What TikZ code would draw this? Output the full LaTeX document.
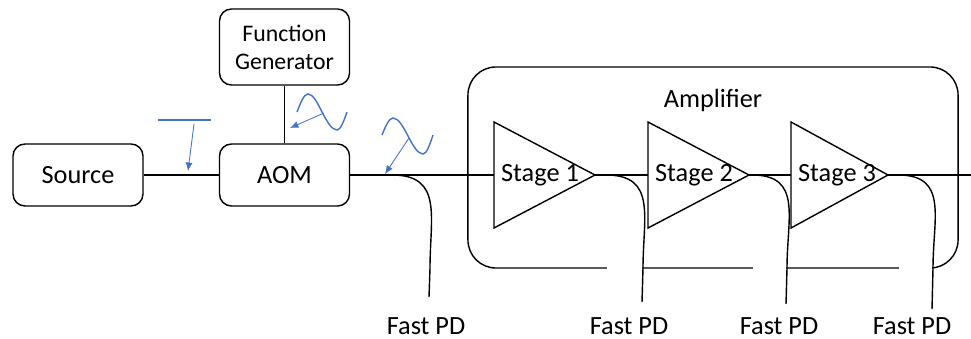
\documentclass[tikz,border=0pt]{standalone}
\usepackage{fontspec}
\setmainfont{Carlito}
\usetikzlibrary{arrows.meta}
\definecolor{msblue}{HTML}{4472C4}

\begin{document}
\begin{tikzpicture}[x=0.025cm,y=-0.025cm,line width=1pt,
  font=\fontsize{18.7}{22}\selectfont,
  box/.style={draw,rounded corners=0.3cm,minimum width=3.25cm,minimum height=1.55cm},
  pdlabel/.style={inner sep=1pt},
  sig/.style={msblue,line width=0.6pt,-{Latex[length=6pt,width=5pt]}},
  wave/.style={msblue,line width=1pt},
  tapcurve/.style={out=0,in=90,looseness=1.3}]
\useasboundingbox (0,0) rectangle (971,339);

\node[box] (src) at (78,175) {Source};
\node[box] (aom) at (284.5,175) {AOM};
\node[box,minimum height=1.9cm,align=center,font=\fontsize{16.9}{19.9}\selectfont] (fg) at (284.5,47) {Function\\Generator};

\node[draw,rounded corners=0.7cm,minimum width=12.25cm,minimum height=5.025cm] (amp) at (713,167.5) {};
\node (amplbl) at (713,100) {Amplifier};

% amplifier stages
\foreach \x/\w [count=\n] in {494/101,648/101,791/97}{
  \draw (\x,122) -- (\x+\w,175) -- (\x,228) -- cycle;
  \coordinate (in\n) at (\x,175);
  \coordinate (out\n) at (\x+\w,175);
  \node (st\n) at (\x+46,175) {Stage \n};
}

\coordinate (end) at (971,175);
\draw (src) -- (aom);
\draw (fg) -- (aom);
\draw (aom) -- (in1);
\draw (out1) -- (in2);
\draw (out2) -- (in3);
\draw (out3) -- (end);

% pick-offs to the photodiodes
\foreach \sx/\ex/\ey/\lx [count=\i] in {392/430/297/426,606/643/302/629,752/787/304/779,898/933/309/912}{
  \coordinate (tap\i) at (\sx,175);
  \coordinate (pd\i) at (\ex-1,\ey);
  \fill[white] (\sx+1,263) rectangle (\ex-1,273);
  \draw (tap\i) to[tapcurve] (\ex,268) -- (pd\i);
  \node[pdlabel] (fpd\i) at (\lx,326) {Fast PD};
}

% signal sketches
\coordinate (dcl) at (158,120);
\coordinate (dcr) at (211,120);
\coordinate (dcs) at (194,124);
\coordinate (dct) at (188,171);
\draw[wave] (dcl) -- (dcr);
\draw[sig] (dcs) -- (dct);

\draw[wave] (297,112) sin (308,94) cos (322,112) sin (337,130) cos (347,112);
\coordinate (rfs) at (324,113);
\coordinate (rft) at (290,128);
\draw[sig] (rfs) -- (rft);

\draw[wave] (382,135) sin (393,118) cos (408,136) sin (423,154) cos (433,135);
\coordinate (mds) at (409,138);
\coordinate (mdt) at (385,174);
\draw[sig] (mds) -- (mdt);
\end{tikzpicture}
\end{document}
